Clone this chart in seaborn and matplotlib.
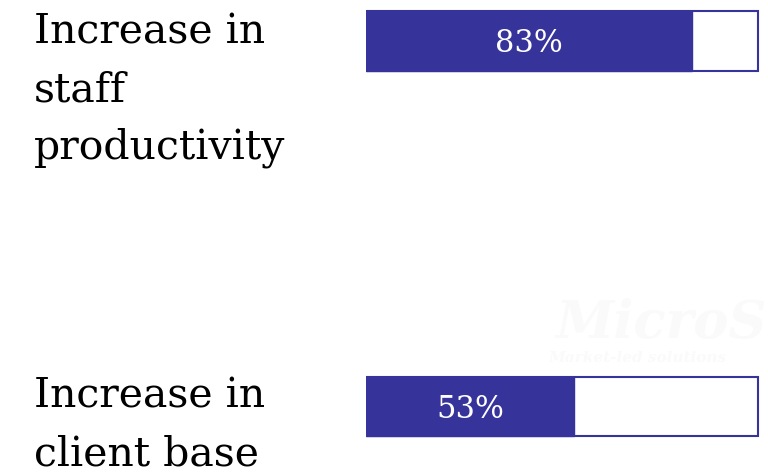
import matplotlib
matplotlib.use("Agg")
import matplotlib.pyplot as plt
import seaborn as sns
import pandas as pd

categories = ["Increase in\nstaff\nproductivity", "Increase in\nclient base"]
values = [83, 53]
value_labels = ["83%", "53%"]
total = [100, 100]

BAR = "#36339A"

sns.set_theme(style="white")
plt.rcParams["font.family"] = ["DejaVu Serif"]

df = pd.DataFrame({"category": categories, "value": values, "total": total})

fig = plt.figure(figsize=(7.68, 4.75), dpi=100)
ax = fig.add_axes([366 / 768, 0, 394 / 768, 1])

# watermark (very faint)
fig.text(556 / 768, 1 - 338 / 475, "MicroS", fontsize=38, style="italic", fontweight="bold",
         color="#fafafa", family="DejaVu Serif", ha="left", va="baseline", zorder=0)
fig.text(548 / 768, 1 - 362 / 475, "Market-led solutions", fontsize=11, style="italic",
         fontweight="bold", color="#fafafa", family="DejaVu Serif", ha="left", va="baseline", zorder=0)

sns.barplot(data=df, y="category", x="total", orient="h", color="white", edgecolor=BAR,
            linewidth=1.5, width=0.164, ax=ax, saturation=1)
sns.barplot(data=df, y="category", x="value", orient="h", color=BAR, edgecolor=BAR,
            linewidth=1.0, width=0.164, ax=ax, saturation=1)

ax.set_xlim(0, 100.4)
ax.set_ylim((475 - 41) / 365.5, -41 / 365.5)
ax.set_axis_off()
ax.patch.set_alpha(0)

for i, (v, lab) in enumerate(zip(values, value_labels)):
    ax.text(v / 2, i + 0.008, lab, color="white", fontsize=22, ha="center", va="center")

# category labels
label_tops = [13, 377]
for cat, top in zip(categories, label_tops):
    fig.text(34 / 768, 1 - top / 475, cat, fontsize=29.5, ha="left", va="top",
             color="black", linespacing=1.56)

fig.savefig("out.png", dpi=100)
